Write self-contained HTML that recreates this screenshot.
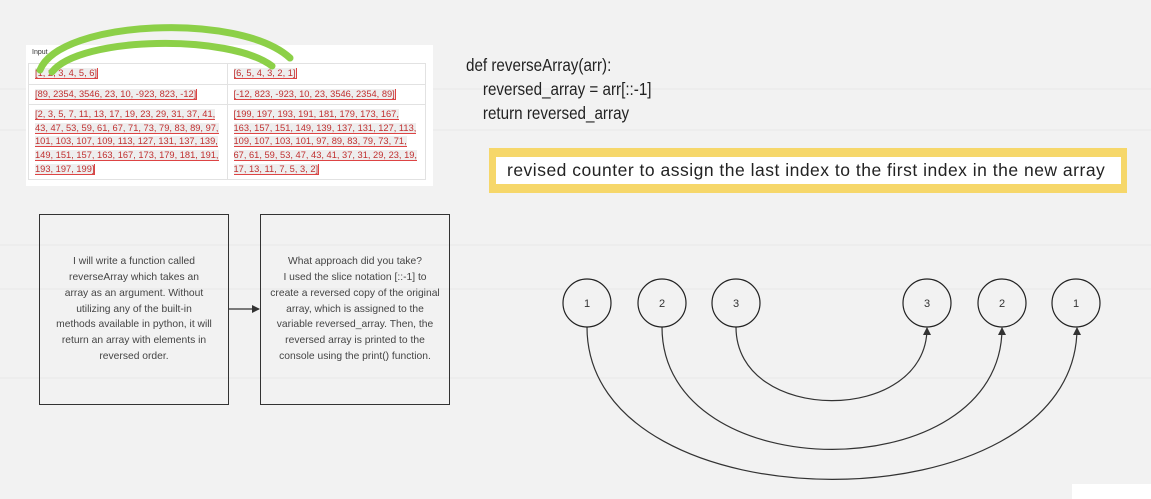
<!DOCTYPE html>
<html><head><meta charset="utf-8"><style>
body{margin:0;width:1151px;height:499px;background:#f2f2f2;overflow:hidden;position:relative;font-family:"Liberation Sans",sans-serif}
.tbl{position:absolute;left:26px;top:45px;width:407px;height:141px;background:#fff}
.tbl table{position:absolute;left:2px;top:18px;width:398px;border-collapse:collapse;font-size:9.3px;color:#c03030;table-layout:fixed}
.tbl td{border:1px solid #e2e2e2;padding:3px 6px 3px 6px;vertical-align:top;line-height:13.6px;width:50%}
.tbl span{background:#eee;border-bottom:1px solid #d44;border-right:1px solid #d44}
.box{position:absolute;border:1.5px solid #333;width:188px;height:189px;display:flex;align-items:center;justify-content:center;text-align:center;font-size:10.3px;line-height:15.8px;color:#444}
.code{position:absolute;left:466px;top:53px;font-size:17.3px;line-height:24px;color:#222;transform:scaleX(0.88);transform-origin:0 0;white-space:nowrap}
</style></head><body>
<svg width="1151" height="499" style="position:absolute;left:0;top:0">
<g stroke="#e8e8e8" stroke-width="1">
<line x1="0" y1="89" x2="1151" y2="89"/><line x1="0" y1="130" x2="1151" y2="130"/><line x1="0" y1="245" x2="1151" y2="245"/><line x1="0" y1="289" x2="1151" y2="289"/><line x1="0" y1="378" x2="1151" y2="378"/>
</g>
</svg>
<div class="tbl"><div style="position:absolute;left:6px;top:4px;font-size:7px;color:#333">Input</div>
<table>
<tr><td><span>[1, 2, 3, 4, 5, 6]</span></td><td><span>[6, 5, 4, 3, 2, 1]</span></td></tr>
<tr><td><span>[89, 2354, 3546, 23, 10, -923, 823, -12]</span></td><td><span>[-12, 823, -923, 10, 23, 3546, 2354, 89]</span></td></tr>
<tr><td><span>[2, 3, 5, 7, 11, 13, 17, 19, 23, 29, 31, 37, 41, 43, 47, 53, 59, 61, 67, 71, 73, 79, 83, 89, 97, 101, 103, 107, 109, 113, 127, 131, 137, 139, 149, 151, 157, 163, 167, 173, 179, 181, 191, 193, 197, 199]</span></td><td><span>[199, 197, 193, 191, 181, 179, 173, 167, 163, 157, 151, 149, 139, 137, 131, 127, 113, 109, 107, 103, 101, 97, 89, 83, 79, 73, 71, 67, 61, 59, 53, 47, 43, 41, 37, 31, 29, 23, 19, 17, 13, 11, 7, 5, 3, 2]</span></td></tr>
</table></div>
<div class="box" style="left:39px;top:214px"><div style="padding:0 16px">I will write a function called reverseArray which takes an array as an argument. Without utilizing any of the built-in methods available in python, it will return an array with elements in reversed order.</div></div>
<div class="box" style="left:260px;top:214px"><div style="padding:0 9px">What approach did you take?<br>I used the slice notation [::-1] to create a reversed copy of the original array, which is assigned to the variable reversed_array. Then, the reversed array is printed to the console using the print() function.</div></div>
<div class="code">def reverseArray(arr):<br>&nbsp;&nbsp;&nbsp;&nbsp;reversed_array = arr[::-1]<br>&nbsp;&nbsp;&nbsp;&nbsp;return reversed_array</div>
<div style="position:absolute;left:489px;top:148px;width:638px;height:45px;background:#f6d76a"></div>
<div style="position:absolute;left:496px;top:157px;width:625px;height:27px;background:#fff;font-size:17.5px;line-height:27px;color:#222;white-space:nowrap;padding-left:11px;box-sizing:border-box;letter-spacing:0.5px">revised counter to assign the last index to the first index in the new array</div>
<div style="position:absolute;left:1072px;top:484px;width:79px;height:15px;background:#fff"></div>
<svg width="1151" height="499" style="position:absolute;left:0;top:0">
<defs><marker id="a" markerWidth="8" markerHeight="8" refX="7" refY="4" orient="auto" markerUnits="userSpaceOnUse"><path d="M0,0 L8,4 L0,8z" fill="#333"/></marker></defs>
<g fill="none" stroke="#333" stroke-width="1.2">
<line x1="229" y1="309" x2="259" y2="309" marker-end="url(#a)"/>
<path d="M736,327 C736,425 927,425 927,328" marker-end="url(#a)"/>
<path d="M662,327 C662,490 1002,490 1002,328" marker-end="url(#a)"/>
<path d="M587,327 C587,530 1077,530 1077,328" marker-end="url(#a)"/>
</g>
<g fill="#f2f2f2" stroke="#222" stroke-width="1.2">
<circle cx="587" cy="303" r="24"/><circle cx="662" cy="303" r="24"/><circle cx="736" cy="303" r="24"/><circle cx="927" cy="303" r="24"/><circle cx="1002" cy="303" r="24"/><circle cx="1076" cy="303" r="24"/>
</g>
<g font-size="11" fill="#333" text-anchor="middle" font-family="Liberation Sans">
<text x="587" y="307">1</text><text x="662" y="307">2</text><text x="736" y="307">3</text><text x="927" y="307">3</text><text x="1002" y="307">2</text><text x="1076" y="307">1</text>
</g>
<g fill="none" stroke="#8cd048" stroke-width="7" stroke-linecap="round">
<path d="M40,70 C60,20 240,12 290,58"/>
<path d="M52,72 C80,36 230,34 272,66"/>
</g>
</svg>
</body></html>
